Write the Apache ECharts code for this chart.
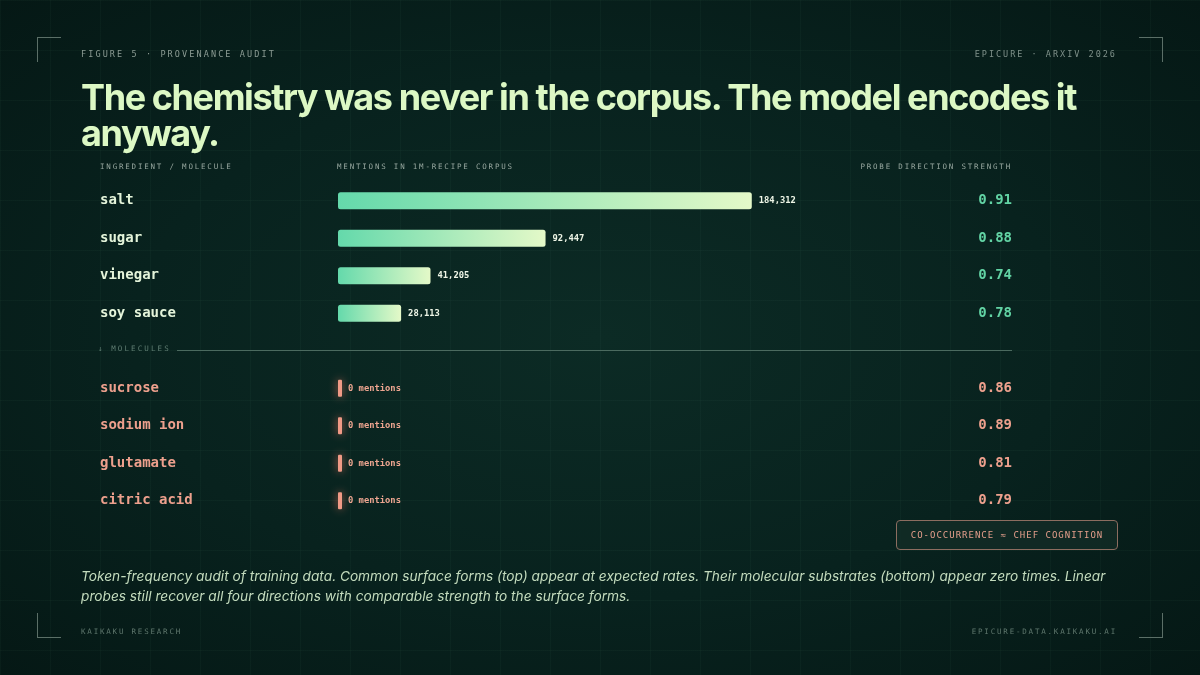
<!DOCTYPE html>
<html>
<head>
    <meta charset="UTF-8">
    <title>Provenance audit</title>
    <style>
        html, body {
            margin: 0;
            padding: 0;
        }
        body {
            width: 1200px;
            height: 675px;
            overflow: hidden;
            position: relative;
            background-color: #07201c;
            /* faint 50px grid over a soft vignette */
            background-image:
                linear-gradient(rgba(110, 190, 150, 0.04) 1px, transparent 1px),
                linear-gradient(90deg, rgba(110, 190, 150, 0.04) 1px, transparent 1px),
                radial-gradient(ellipse at 50% 50%, #0c2b25 0%, #08221e 55%, #051815 100%);
            background-size: 50px 50px, 50px 50px, 100% 100%;
            font-family: Inter, "Noto Sans", sans-serif;
        }
        #chart {
            position: absolute;
            left: 0;
            top: 0;
            width: 1200px;
            height: 675px;
        }
        .txt {
            position: absolute;
            white-space: nowrap;
            pointer-events: none;
        }
        .mono {
            font-family: "DejaVu Sans Mono", "Liberation Mono", monospace;
        }
        .corner {
            position: absolute;
            width: 23px;
            height: 24px;
            border-color: #5b6f67;
            border-style: solid;
            border-width: 0;
        }
        #kicker { left: 81px; top: 49px; font-size: 8.5px; letter-spacing: 2.1px; color: #8c9c94; }
        #source { right: 83px; top: 49px; font-size: 8.5px; letter-spacing: 2px; color: #7f918a; }
        #title {
            left: 81px; top: 79px;
            font-size: 36px; font-weight: 700; line-height: 36px;
            letter-spacing: -1.4px; color: #dcf8c4;
        }
        .colhead { top: 162px; font-size: 7.5px; letter-spacing: 1.8px; color: #97a79f; }
        #divider {
            position: absolute; left: 177px; width: 835px; top: 350px;
            height: 1px; background: #4b6a5f;
        }
        #divlabel { left: 98px; top: 344px; font-size: 7.5px; letter-spacing: 2.1px; color: #5f7d72; }
        #legend {
            position: absolute; left: 896px; top: 520px; width: 220px; height: 28px;
            border: 1px solid #8c6d60; border-radius: 4px;
            background: rgba(18, 44, 38, 0.85);
            color: #e69f8c; font-size: 9px; letter-spacing: 1px;
            line-height: 28px; text-align: center;
        }
        #caption {
            left: 81px; top: 567px;
            font-size: 13.7px; font-style: italic; line-height: 19.5px; color: #c3dbbd;
        }
        .foot { top: 627px; font-size: 7.5px; letter-spacing: 1.8px; color: #5f776d; }
    </style>
    <script src="https://cdn.jsdelivr.net/npm/echarts@6/dist/echarts.min.js"></script>
</head>
<body>
<div id="chart"></div>

<div class="corner" style="left:37px; top:37px; border-left-width:1px; border-top-width:1px;"></div>
<div class="corner" style="left:1139px; top:37px; border-right-width:1px; border-top-width:1px;"></div>
<div class="corner" style="left:37px; top:613px; border-left-width:1px; border-bottom-width:1px;"></div>
<div class="corner" style="left:1139px; top:613px; border-right-width:1px; border-bottom-width:1px;"></div>

<div class="txt mono" id="kicker">FIGURE 5 · PROVENANCE AUDIT</div>
<div class="txt mono" id="source">EPICURE · ARXIV 2026</div>
<div class="txt" id="title">The chemistry was never in the corpus. The model encodes it<br>anyway.</div>

<div class="txt mono colhead" style="left:100px;">INGREDIENT / MOLECULE</div>
<div class="txt mono colhead" style="left:337px;">MENTIONS IN 1M-RECIPE CORPUS</div>
<div class="txt mono colhead" style="right:188px;">PROBE DIRECTION STRENGTH</div>

<div id="divider"></div>
<div class="txt mono" id="divlabel">↓ MOLECULES</div>

<div class="mono" id="legend">CO-OCCURRENCE ≈ CHEF COGNITION</div>

<div class="txt" id="caption">Token-frequency audit of training data. Common surface forms (top) appear at expected rates. Their molecular substrates (bottom) appear zero times. Linear<br>probes still recover all four directions with comparable strength to the surface forms.</div>

<div class="txt mono foot" style="left:81px;">KAIKAKU RESEARCH</div>
<div class="txt mono foot" style="right:83px;">EPICURE-DATA.KAIKAKU.AI</div>

<script type="text/javascript">
    // surface forms (top block)
    var ingredients = ['salt', 'sugar', 'vinegar', 'soy sauce'];
    var ingredientMentions = [184312, 92447, 41205, 28113];
    var ingredientStrength = [0.91, 0.88, 0.74, 0.78];

    // molecular substrates (bottom block)
    var molecules = ['sucrose', 'sodium ion', 'glutamate', 'citric acid'];
    var moleculeMentions = [0, 0, 0, 0];
    var moleculeStrength = [0.86, 0.89, 0.81, 0.79];

    var mentionsMax = 200000;

    // one empty row between the two blocks for the divider
    var spacer = ' ';
    var rows = ingredients.concat([spacer], molecules);
    var strengths = ingredientStrength.concat([null], moleculeStrength);
    var nTop = ingredients.length;

    var topData = ingredientMentions.concat(['-'], molecules.map(function () { return '-'; }));
    var molData = ingredients.map(function () { return '-'; }).concat(['-'], moleculeMentions);

    var mono = '"DejaVu Sans Mono", "Liberation Mono", monospace';
    var mint = '#62d3a4';
    var salmon = '#eda08d';

    var myChart = echarts.init(document.getElementById('chart'), null, { renderer: 'canvas' });

    var option = {
        backgroundColor: 'transparent',
        animation: false,
        grid: {
            left: 338,
            top: 182,
            width: 449,
            height: 337.5
        },
        xAxis: {
            type: 'value',
            min: 0,
            max: mentionsMax,
            show: false
        },
        yAxis: [{
            type: 'category',
            data: rows,
            inverse: true,
            axisLine: { show: false },
            axisTick: { show: false },
            splitLine: { show: false },
            axisLabel: {
                interval: 0,
                margin: 238,
                align: 'left',
                fontFamily: mono,
                fontSize: 14,
                fontWeight: 'bold',
                formatter: function (v, i) {
                    if (i < nTop) return '{ing|' + v + '}';
                    if (i > nTop) return '{mol|' + v + '}';
                    return '';
                },
                rich: {
                    ing: { color: '#e4f4da', fontFamily: mono, fontSize: 14, fontWeight: 'bold' },
                    mol: { color: salmon, fontFamily: mono, fontSize: 14, fontWeight: 'bold' }
                }
            }
        }, {
            type: 'category',
            data: rows,
            inverse: true,
            position: 'right',
            axisLine: { show: false },
            axisTick: { show: false },
            splitLine: { show: false },
            axisLabel: {
                interval: 0,
                margin: 225,
                align: 'right',
                formatter: function (v, i) {
                    var s = strengths[i];
                    if (s == null) return '';
                    return (i < nTop ? '{ing|' : '{mol|') + s.toFixed(2) + '}';
                },
                rich: {
                    ing: { color: mint, fontFamily: mono, fontSize: 14, fontWeight: 'bold' },
                    mol: { color: salmon, fontFamily: mono, fontSize: 14, fontWeight: 'bold' }
                }
            }
        }],
        series: [{
            name: 'Mentions',
            type: 'bar',
            yAxisIndex: 0,
            data: topData,
            barWidth: 17,
            barGap: '-100%',
            itemStyle: {
                borderRadius: 2.5,
                color: new echarts.graphic.LinearGradient(0, 0, 1, 0, [
                    { offset: 0, color: '#64d9ab' },
                    { offset: 1, color: '#e4f9c8' }
                ])
            },
            label: {
                show: true,
                position: 'right',
                distance: 7,
                color: '#eef5e6',
                fontFamily: mono,
                fontSize: 8.8,
                fontWeight: 'bold',
                formatter: function (p) {
                    return Number(p.value).toLocaleString('en-US');
                }
            }
        }, {
            name: 'Molecule mentions',
            type: 'bar',
            yAxisIndex: 0,
            data: molData,
            barWidth: 17,
            barGap: '-100%',
            barMinHeight: 4,
            itemStyle: {
                borderRadius: 1,
                color: '#f09a86',
                shadowBlur: 9,
                shadowColor: 'rgba(240, 120, 100, 0.75)'
            },
            label: {
                show: true,
                position: 'right',
                distance: 6,
                color: '#eda590',
                fontFamily: mono,
                fontSize: 8.8,
                fontWeight: 'bold',
                formatter: function (p) {
                    return p.value + ' mentions';
                }
            }
        }]
    };

    myChart.setOption(option);
</script>
</body>
</html>
